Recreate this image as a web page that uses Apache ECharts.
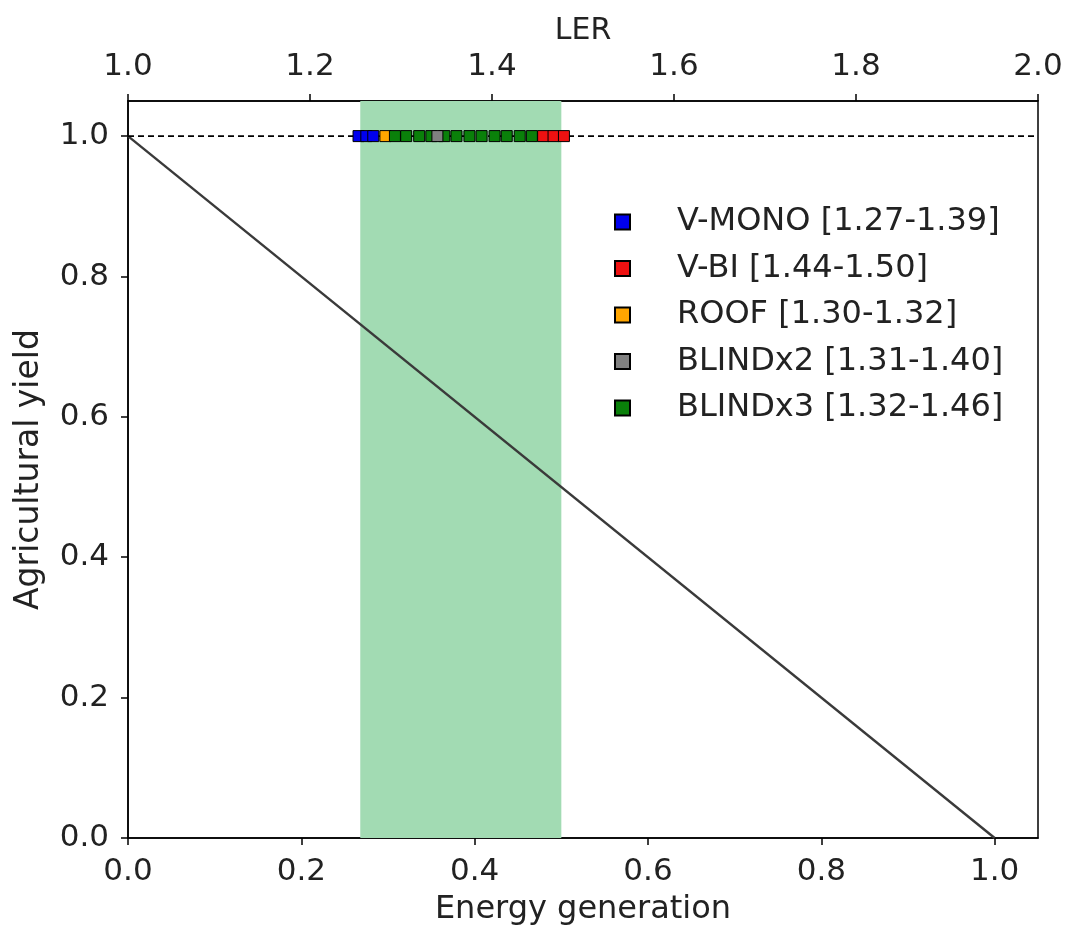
<!DOCTYPE html>
<html><head><meta charset="utf-8">
<script src="https://cdn.jsdelivr.net/npm/echarts@6/dist/echarts.min.js"></script>
<style>html,body{margin:0;padding:0;background:#fff}#c{width:1067px;height:931px}</style>
</head><body><div id="c"></div>
<script>
const energyTicks = [0, 0.2, 0.4, 0.6, 0.8, 1.0];
const yieldTicks = [0, 0.2, 0.4, 0.6, 0.8, 1.0];
const lerTicks = [1.0, 1.2, 1.4, 1.6, 1.8, 2.0];
const bandRange = [0.268, 0.5];
const diagonal = [[0, 1], [1, 0]];
const refLine = [[0, 1], [1.05, 1]];
const seriesNames = ['V-MONO [1.27-1.39]', 'V-BI [1.44-1.50]', 'ROOF [1.30-1.32]', 'BLINDx2 [1.31-1.40]', 'BLINDx3 [1.32-1.46]'];
const seriesColors = ['#0000ee', '#ee1111', '#ffa500', '#808080', '#0a800a'];
const vmono = [0.266, 0.275, 0.283];
const vbi = [0.479, 0.491, 0.503];
const roof = [0.297];
const blind2 = [0.357];
const blind3 = [0.308, 0.321, 0.336, 0.350, 0.365, 0.379, 0.394, 0.408, 0.423, 0.437, 0.452, 0.466];
const groupValues = [vmono, vbi, roof, blind2, blind3];
const groupZ = [3, 3, 3, 5, 4];

const FONT = 'DejaVu Sans';
const TXT = '#222';
const fmt = v => Number(v).toFixed(1);

const chart = echarts.init(document.getElementById('c'));
const scatterSeries = seriesNames.map((n, i) => ({
  name: n, type: 'scatter', xAxisIndex: 0, yAxisIndex: 0,
  symbol: 'rect', symbolSize: 11, z: groupZ[i],
  itemStyle: { color: seriesColors[i], borderColor: '#000', borderWidth: 1, opacity: 1 },
  emphasis: { disabled: true },
  data: groupValues[i].map(x => [x, 1])
}));

chart.setOption({
  animation: false,
  backgroundColor: '#fff',
  textStyle: { fontFamily: FONT },
  grid: { left: 128, right: 29, top: 101, bottom: 91, show: true, borderColor: '#000', borderWidth: 1.5, backgroundColor: 'transparent' },
  legend: {
    orient: 'vertical', left: 609, top: 200,
    itemWidth: 15, itemHeight: 15, itemGap: 12.5,
    icon: 'rect',
    data: seriesNames,
    textStyle: { fontFamily: FONT, fontSize: 32, color: TXT, lineHeight: 34, padding: [0, 0, 0, 42] },
    selectedMode: false
  },
  xAxis: [{
    type: 'value', min: 0, max: 1.05, position: 'bottom',
    name: 'Energy generation', nameLocation: 'middle', nameGap: 56,
    nameTextStyle: { fontFamily: FONT, fontSize: 32, color: TXT },
    axisLine: { show: true, onZero: false, lineStyle: { color: '#000', width: 1.5 } },
    axisTick: { show: true, inside: false, length: 7, lineStyle: { color: '#000', width: 1.5 }, customValues: energyTicks },
    axisLabel: { fontFamily: FONT, fontSize: 31, color: TXT, margin: 18, customValues: energyTicks, formatter: fmt },
    splitLine: { show: false }
  }, {
    type: 'value', min: 1, max: 2, position: 'top',
    name: 'LER', nameLocation: 'middle', nameGap: 55,
    nameTextStyle: { fontFamily: FONT, fontSize: 30, color: TXT },
    axisLine: { show: true, onZero: false, lineStyle: { color: '#000', width: 1.5 } },
    axisTick: { show: true, inside: false, length: 7, lineStyle: { color: '#000', width: 1.5 }, customValues: lerTicks },
    axisLabel: { fontFamily: FONT, fontSize: 31, color: TXT, margin: 19, customValues: lerTicks, formatter: fmt },
    splitLine: { show: false }
  }],
  yAxis: [{
    type: 'value', min: 0, max: 1.05,
    name: 'Agricultural yield', nameLocation: 'middle', nameGap: 82,
    nameTextStyle: { fontFamily: FONT, fontSize: 33, color: TXT },
    axisLine: { show: true, onZero: false, lineStyle: { color: '#000', width: 1.5 } },
    axisTick: { show: true, inside: false, length: 7, lineStyle: { color: '#000', width: 1.5 }, customValues: yieldTicks },
    axisLabel: { fontFamily: FONT, fontSize: 31, color: TXT, margin: 19, customValues: yieldTicks, formatter: fmt },
    splitLine: { show: false }
  }],
  series: [{
    type: 'line', xAxisIndex: 0, yAxisIndex: 0, data: [], silent: true, z: 0,
    markArea: { silent: true, itemStyle: { color: '#a2dbb3', opacity: 1 }, data: [[{ xAxis: bandRange[0] }, { xAxis: bandRange[1] }]] }
  }, {
    type: 'line', xAxisIndex: 0, yAxisIndex: 0, data: diagonal, symbol: 'none', silent: true, z: 1,
    lineStyle: { color: '#3a3a3a', width: 2.4 }
  }, {
    type: 'line', xAxisIndex: 0, yAxisIndex: 0, data: refLine, symbol: 'none', silent: true, z: 2,
    lineStyle: { color: '#000', width: 1.6, type: [6, 4] }
  }].concat(scatterSeries)
});
</script></body></html>
